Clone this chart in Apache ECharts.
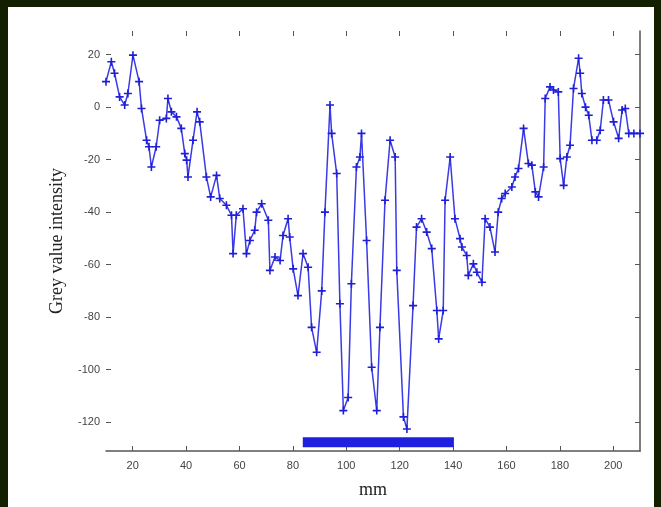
<!DOCTYPE html>
<html>
<head>
<meta charset="utf-8">
<script src="https://cdn.jsdelivr.net/npm/echarts@6/dist/echarts.min.js"></script>
<style>
  html, body { margin: 0; padding: 0; width: 661px; height: 507px; background: #132000; overflow: hidden; }
  #paper { position: absolute; left: 8px; top: 7px; width: 646px; height: 500px; background: #ffffff; }
  #chart { position: absolute; left: 0; top: 0; width: 661px; height: 507px; }
</style>
</head>
<body>
<div id="paper"></div>
<div id="chart"></div>
<script>
// position along the profile (mm)
const xs = [10,12.0,13.2,15.1,17.0,18.2,20.1,22.4,23.3,25.2,
  26.1,27.0,28.8,30.1,32.6,33.2,34.5,36.4,38.2,39.5,
  40.2,40.7,42.6,44.1,45.1,47.6,49.2,51.4,52.6,55.1,
  57.0,57.6,58.8,61.3,62.6,63.9,65.7,66.4,68.3,70.8,
  71.4,73.3,75.2,76.3,78.2,78.8,80.1,81.9,83.8,85.7,
  87.0,88.9,90.8,92.0,93.9,94.5,96.4,97.6,98.9,100.7,
  101.9,103.8,105.1,105.7,107.6,109.5,111.4,112.6,114.5,116.4,
  118.3,118.9,121.4,122.7,125.0,126.3,128.2,130.1,132.0,133.9,
  134.6,136.3,137.0,138.9,140.7,142.6,143.3,145.1,145.7,147.6,
  148.9,150.8,152.0,153.8,155.7,156.9,158.2,159.5,162.0,163.2,
  164.5,166.4,168.2,169.5,170.8,172.0,173.9,174.5,176.3,177.6,
  179.4,180.1,181.4,182.6,183.8,185.1,187.0,187.6,188.2,189.6,
  190.8,192.0,193.8,195.1,196.3,198.2,200.1,202.0,203.3,204.5,
  205.8,207.7,210];
// grey value intensity
const ys = [9.7,17.3,12.9,3.9,0.8,5.2,19.8,9.7,-0.5,-12.6,
  -15.1,-22.8,-15.1,-5,-4.3,3.3,-1.8,-3.7,-8.1,-17.7,
  -20.2,-26.6,-12.6,-1.8,-5.6,-26.6,-34.2,-26,-34.8,-37.4,
  -41.2,-55.8,-41.2,-38.7,-55.8,-50.8,-46.9,-40,-36.8,-43.1,
  -62.2,-57.1,-58.4,-48.9,-42.5,-49.5,-61.6,-71.8,-55.8,-61,
  -83.9,-93.4,-70,-40,0.8,-10,-25.3,-74.9,-115.6,-110.6,
  -67.3,-22.8,-19,-10,-50.8,-99.1,-115.6,-83.9,-35.5,-12.6,
  -19,-62.2,-118,-122.6,-75.6,-45.7,-42.5,-47.6,-53.9,-77.5,
  -88.3,-77.5,-35.5,-19,-42.5,-50.1,-53.3,-56.5,-64.1,-59.7,
  -62.9,-66.7,-42.5,-45.7,-55.2,-40,-34.8,-32.9,-30.4,-26.6,
  -23.4,-8.1,-21.5,-22.1,-32.3,-34.2,-22.8,3.3,7.7,6.5,
  5.8,-19.6,-29.8,-19,-14.5,7.1,18.6,12.9,5.2,0,
  -3.1,-12.6,-12.6,-8.8,2.7,2.7,-5.6,-11.9,-1.1,-0.5,
  -10,-10,-10];
// highlighted region bar
const barX = [83.7, 140.3];
const barY = [-127.7, -127.7];
// ticks
const xTicks = [20,40,60,80,100,120,140,160,180,200];
const yTicks = [20,0,-20,-40,-60,-80,-100,-120];

const chart = echarts.init(document.getElementById('chart'), null, { renderer: 'canvas' });
const lineData = xs.map((x, i) => [x, ys[i]]);
const barData = barX.map((x, i) => [x, barY[i]]);
const plus = 'path://M4,0h2v4h4v2h-4v4h-2v-4h-4v-2h4z';
const labelFont = { fontFamily: 'Liberation Sans', fontSize: 11, color: '#444' };

chart.setOption({
  backgroundColor: 'transparent',
  animation: false,
  grid: { left: 106, right: 21, top: 31, bottom: 56 },
  xAxis: [{
    type: 'value', position: 'bottom', min: 10, max: 210,
    axisLine: { show: true, onZero: false, lineStyle: { color: '#555', width: 1.5 } },
    axisTick: { show: true, inside: true, length: 5, customValues: xTicks, lineStyle: { color: '#555' } },
    axisLabel: Object.assign({ customValues: xTicks, margin: 9 }, labelFont),
    splitLine: { show: false },
    name: 'mm', nameLocation: 'middle', nameGap: 30,
    nameTextStyle: { fontFamily: 'Liberation Serif', fontSize: 18, color: '#222' }
  }, {
    type: 'value', position: 'top', min: 10, max: 210,
    axisLine: { show: false, onZero: false },
    axisTick: { show: true, inside: true, length: 5, customValues: xTicks, lineStyle: { color: '#555' } },
    axisLabel: { show: false },
    splitLine: { show: false }
  }],
  yAxis: [{
    type: 'value', position: 'left', min: -131, max: 29,
    axisLine: { show: false, onZero: false },
    axisTick: { show: true, inside: true, length: 5, customValues: yTicks, lineStyle: { color: '#555' } },
    axisLabel: Object.assign({ customValues: yTicks, margin: 6 }, labelFont),
    splitLine: { show: false },
    name: 'Grey value intensity', nameLocation: 'middle', nameGap: 40, nameRotate: 90,
    nameTextStyle: { fontFamily: 'Liberation Serif', fontSize: 18, color: '#222' }
  }, {
    type: 'value', position: 'right', min: -131, max: 29,
    axisLine: { show: true, onZero: false, lineStyle: { color: '#555', width: 1.5 } },
    axisTick: { show: true, inside: true, length: 5, customValues: yTicks, lineStyle: { color: '#555' } },
    axisLabel: { show: false },
    splitLine: { show: false }
  }],
  series: [{
    type: 'line', data: lineData, xAxisIndex: 0, yAxisIndex: 0,
    clip: false,
    symbol: plus, symbolSize: 8, showSymbol: true,
    lineStyle: { color: '#3a3ae6', width: 1.5 },
    itemStyle: { color: '#1f1fd6' }
  }, {
    type: 'line', data: barData, xAxisIndex: 0, yAxisIndex: 0,
    symbol: 'none',
    lineStyle: { color: '#1f1fe0', width: 10, cap: 'butt' }
  }]
});
</script>
</body>
</html>
